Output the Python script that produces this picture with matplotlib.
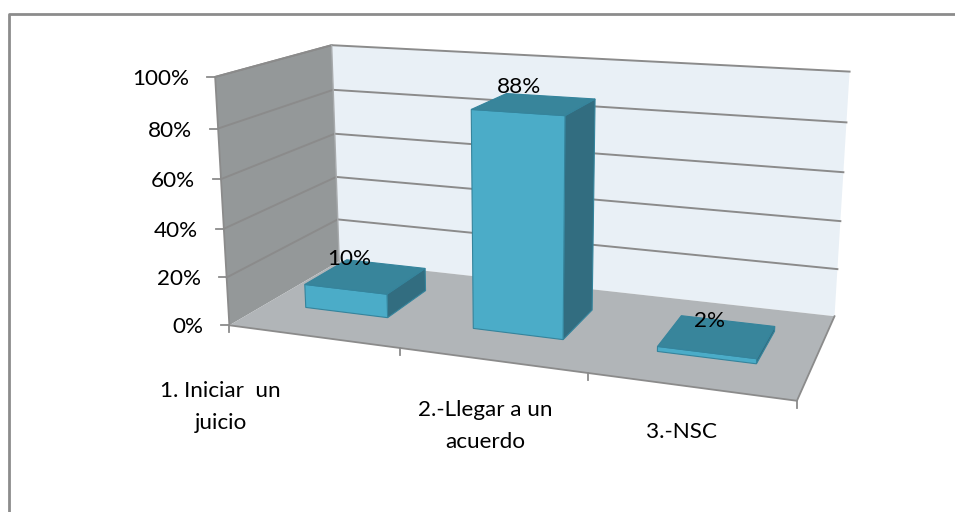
import matplotlib
matplotlib.use("Agg")
import matplotlib.pyplot as plt
import numpy as np
from matplotlib.patches import Polygon

categories = ["1. Iniciar  un\njuicio", "2.-Llegar a un\nacuerdo", "3.-NSC"]
values = [10, 88, 2]
value_labels = ["10%", "88%", "2%"]
y_ticks = [0, 20, 40, 60, 80, 100]

plt.rcParams["font.family"] = ["Lato", "DejaVu Sans"]

# box points (category, depth, percent) and where they land in the picture
box_pts = np.array([
    [0, 0, 0], [0, 0, 100], [0, 1, 100], [0, 1, 0],
    [3, 1, 0], [3, 1, 100], [3, 0, 0],
    [1, 0, 0], [2, 0, 0],
    [0, 0, 20], [0, 0, 40], [0, 0, 60], [0, 0, 80],
    [0, 1, 20], [0, 1, 40], [0, 1, 60], [0, 1, 80],
], dtype=float)
box_px = np.array([
    [230, 323], [215, 77], [332, 46], [339, 262],
    [835, 314], [850, 72], [796, 398],
    [400, 352], [588, 378],
    [227, 276], [224, 228], [221, 178], [218, 128],
    [338, 219], [336, 177], [334, 134], [333, 90],
], dtype=float)


def fit_camera(pts, px):
    rows = []
    for (a, b, c), (u, v) in zip(pts, px):
        rows.append([a, b, c, 1, 0, 0, 0, 0, -u * a, -u * b, -u * c, -u])
        rows.append([0, 0, 0, 0, a, b, c, 1, -v * a, -v * b, -v * c, -v])
    return np.linalg.svd(np.array(rows))[2][-1].reshape(3, 4)


cam = fit_camera(box_pts, box_px)


def proj(cat, depth, pct):
    p = cam @ np.array([cat, depth, pct, 1.0])
    return p[0] / p[2], p[1] / p[2]


fig = plt.figure(figsize=(9.55, 5.12), dpi=100)
ax = fig.add_axes([0, 0, 1, 1])
ax.set_xlim(0, 955)
ax.set_ylim(512, 0)
ax.axis("off")

# chart frame, open towards bottom and right edge of the crop
ax.plot([8.7, 8.7, 955], [512, 14, 14], color="#8c8c8c", lw=2.0, solid_capstyle="butt")

wall_grey = "#949899"
back_wall = "#e9f0f6"
floor_grey = "#b1b5b8"
grid_grey = "#8b8b8b"

ax.add_patch(Polygon([proj(0, 0, 0), proj(0, 0, 100), proj(0, 1, 100), proj(0, 1, 0)],
                     fc=wall_grey, ec="none", zorder=1))
ax.add_patch(Polygon([proj(0, 1, 0), proj(0, 1, 100), proj(3, 1, 100), proj(3, 1, 0)],
                     fc=back_wall, ec="none", zorder=1))
ax.add_patch(Polygon([proj(0, 0, 0), proj(0, 1, 0), proj(3, 1, 0), proj(3, 0, 0)],
                     fc=floor_grey, ec="none", zorder=1))

for t in y_ticks:
    a, b, c = proj(0, 0, t), proj(0, 1, t), proj(3, 1, t)
    if t > 0:
        ax.plot([a[0], b[0], c[0]], [a[1], b[1], c[1]], color=grid_grey, lw=1.4, zorder=2)
    ax.plot([a[0] - 8, a[0]], [a[1], a[1]], color=grid_grey, lw=1.3, zorder=2)
    ax.text(a[0] - 26, a[1] + 2, f"{t}%", ha="right", va="center",
            fontsize=16.2, color="black", zorder=6)

# axis edges
edge = [proj(0, 1, 100), proj(0, 0, 100), proj(0, 0, 0), proj(3, 0, 0), proj(3, 1, 0)]
ax.plot(*zip(*edge), color=grid_grey, lw=1.3, zorder=2)
back_edge = [proj(0, 1, 0), proj(0, 1, 100)]
ax.plot(*zip(*back_edge), color="#a8abad", lw=1.0, zorder=2)
for i in range(4):
    x0, y0 = proj(i, 0, 0)
    ax.plot([x0, x0], [y0, y0 + 7], color=grid_grey, lw=1.3, zorder=2)

# bars
bar_w = 0.5
bar_shift = -0.012
d0, d1 = 0.32, 0.72
front_col = "#4bacc8"
top_col = "#38859b"
side_col = "#326d80"
line_col = "#35849c"
label_dx = [-38, -33, -20]
label_dy = [-5, -9, 0]
for i, v in enumerate(values):
    u0 = i + 0.5 + bar_shift - bar_w / 2
    u1 = i + 0.5 + bar_shift + bar_w / 2
    ax.add_patch(Polygon([proj(u1, d0, 0), proj(u1, d1, 0), proj(u1, d1, v), proj(u1, d0, v)],
                         fc=side_col, ec=line_col, lw=0.8, zorder=3))
    ax.add_patch(Polygon([proj(u0, d0, 0), proj(u1, d0, 0), proj(u1, d0, v), proj(u0, d0, v)],
                         fc=front_col, ec=line_col, lw=0.8, zorder=4))
    ax.add_patch(Polygon([proj(u0, d0, v), proj(u1, d0, v), proj(u1, d1, v), proj(u0, d1, v)],
                         fc=top_col, ec=line_col, lw=0.8, zorder=5))
    lx, ly = proj(i + 0.5, d1, v)
    ax.text(lx + label_dx[i], ly + label_dy[i], value_labels[i], ha="center", va="center",
            fontsize=16.2, color="black", zorder=7)

# category labels, offset from the front edge of each category
cat_dx = [-92, -6, -8]
cat_dy = [71, 66, 45]
for i, name in enumerate(categories):
    fx, fy = proj(i + 0.5, 0, 0)
    ax.text(fx + cat_dx[i], fy + cat_dy[i], name, ha="center", va="center", fontsize=16.2,
            linespacing=1.75, color="black", zorder=6)

fig.savefig("out.png", dpi=100)
